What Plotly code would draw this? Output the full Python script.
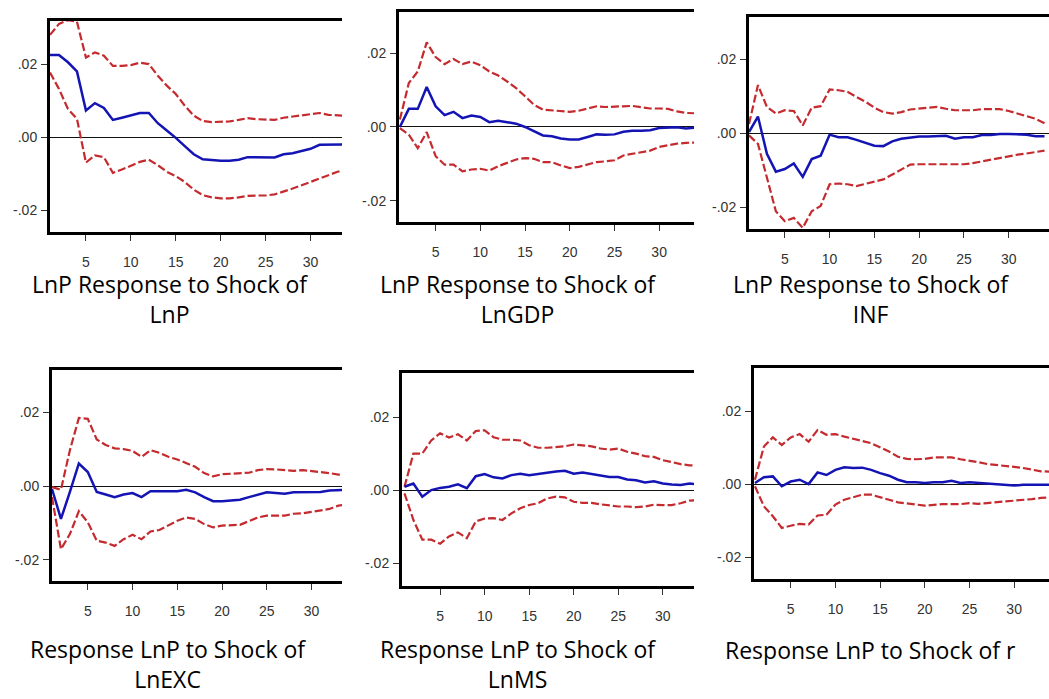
import plotly.graph_objects as go

periods = list(range(1, 35))

# Panel 1: LnP -> LnP
p1_resp = [0.0225,0.0225,0.0205,0.018,0.0073,0.0093,0.008,0.0047,0.0053,0.0059,0.0066,0.0066,0.0038,0.0018,-0.0002,-0.0025,-0.0047,-0.0061,-0.0064,-0.0065,-0.0065,-0.0062,-0.0055,-0.0056,-0.0056,-0.0056,-0.0047,-0.0044,-0.0038,-0.0032,-0.0021,-0.0021,-0.0021,-0.002]
p1_up = [0.028,0.031,0.032,0.0316,0.0218,0.0232,0.0223,0.0195,0.0195,0.0197,0.0204,0.02,0.0168,0.0141,0.0118,0.0086,0.0059,0.0044,0.0041,0.0041,0.0043,0.0047,0.0052,0.0049,0.0047,0.0047,0.0053,0.0056,0.0061,0.0062,0.0066,0.0061,0.0059,0.0058]
p1_lo = [0.0177,0.0132,0.0077,0.005,-0.007,-0.005,-0.0055,-0.0098,-0.0089,-0.0079,-0.0068,-0.0062,-0.0077,-0.0095,-0.0107,-0.0123,-0.0144,-0.0159,-0.0165,-0.0168,-0.0168,-0.0165,-0.0161,-0.016,-0.016,-0.0157,-0.015,-0.0141,-0.0132,-0.0123,-0.0114,-0.0105,-0.0095,-0.009]

# Panel 2: LnP -> LnGDP
p2_resp = [0.0,0.0049,0.0049,0.0108,0.0056,0.0032,0.0041,0.0024,0.0031,0.0027,0.0013,0.0017,0.0013,0.0009,0.0,-0.0012,-0.0023,-0.0025,-0.0031,-0.0034,-0.0034,-0.0027,-0.002,-0.0021,-0.002,-0.0013,-0.001,-0.001,-0.0009,-0.0003,-0.0001,-0.0001,-0.0004,-0.0002]
p2_up = [0.002,0.0119,0.015,0.0229,0.0189,0.017,0.0184,0.017,0.0177,0.0167,0.015,0.0139,0.0123,0.0105,0.0083,0.006,0.0047,0.0045,0.0042,0.0041,0.0044,0.0051,0.0056,0.0054,0.0054,0.0056,0.0057,0.0054,0.005,0.005,0.0049,0.0042,0.0038,0.0037]
p2_lo = [-0.0003,-0.0021,-0.0057,-0.0014,-0.0079,-0.0102,-0.0102,-0.012,-0.0115,-0.0113,-0.0118,-0.0106,-0.0097,-0.0088,-0.0084,-0.0086,-0.0095,-0.0095,-0.0104,-0.0111,-0.0108,-0.0102,-0.0095,-0.0093,-0.009,-0.0077,-0.0072,-0.0068,-0.0064,-0.0054,-0.0049,-0.0045,-0.0043,-0.0042]

# Panel 3: LnP -> INF
p3_resp = [0.0003,0.0045,-0.0056,-0.0104,-0.0097,-0.0082,-0.0118,-0.007,-0.0061,-0.0004,-0.0011,-0.0011,-0.0018,-0.0027,-0.0034,-0.0035,-0.0022,-0.0015,-0.0011,-0.0009,-0.0009,-0.0007,-0.0007,-0.0015,-0.0011,-0.0011,-0.0005,-0.0005,-0.0002,-0.0002,-0.0003,-0.0004,-0.0008,-0.0008]
p3_up = [0.0025,0.013,0.0071,0.0053,0.0062,0.006,0.0021,0.0069,0.0073,0.0118,0.0116,0.0112,0.0098,0.0085,0.0069,0.0057,0.0053,0.0057,0.0064,0.0066,0.0069,0.0071,0.0066,0.0062,0.0062,0.0062,0.0065,0.0065,0.0065,0.006,0.0053,0.0045,0.0039,0.0027]
p3_lo = [-0.0006,-0.0029,-0.012,-0.0211,-0.0238,-0.0229,-0.0256,-0.0211,-0.0197,-0.0138,-0.0136,-0.0138,-0.0143,-0.0138,-0.0131,-0.0125,-0.0111,-0.0097,-0.0085,-0.0084,-0.0084,-0.0084,-0.0084,-0.0086,-0.0084,-0.0081,-0.0076,-0.0073,-0.0067,-0.0061,-0.0058,-0.0055,-0.0052,-0.0047]

# Panel 4: LnP -> LnEXC
p4_resp = [-0.0008,-0.0089,-0.0016,0.0061,0.0038,-0.0016,-0.0023,-0.003,-0.0023,-0.0019,-0.003,-0.0014,-0.0014,-0.0015,-0.0014,-0.001,-0.0017,-0.003,-0.0041,-0.0041,-0.0039,-0.0037,-0.003,-0.0023,-0.0017,-0.0019,-0.0021,-0.0017,-0.0017,-0.0017,-0.0016,-0.0012,-0.001,-0.001]
p4_up = [-0.0003,-0.001,0.0097,0.0184,0.0182,0.0126,0.0111,0.0102,0.01,0.0095,0.0079,0.0097,0.009,0.0079,0.0072,0.0063,0.0052,0.0035,0.0026,0.0032,0.0034,0.0034,0.0036,0.0043,0.0046,0.0045,0.0043,0.0041,0.0043,0.0041,0.0038,0.0035,0.0031,0.003]
p4_lo = [-0.003,-0.0171,-0.013,-0.0068,-0.0098,-0.0148,-0.0153,-0.0162,-0.0144,-0.0132,-0.0144,-0.0123,-0.0119,-0.0107,-0.0094,-0.0085,-0.0089,-0.0103,-0.0112,-0.0107,-0.0107,-0.0105,-0.0095,-0.0085,-0.008,-0.008,-0.008,-0.0075,-0.0074,-0.007,-0.0066,-0.0062,-0.0053,-0.005]

# Panel 5: LnP -> LnMS
p5_resp = [0.0009,0.0018,-0.0018,0.0,0.0006,0.0009,0.0016,0.0005,0.0038,0.0044,0.0035,0.0032,0.0041,0.0045,0.0041,0.0045,0.0049,0.0051,0.0053,0.0045,0.0048,0.0044,0.0039,0.0036,0.0036,0.0029,0.0027,0.0021,0.0024,0.0018,0.0015,0.0014,0.0018,0.0015]
p5_up = [0.0009,0.01,0.01,0.0136,0.0156,0.0144,0.0153,0.0136,0.0162,0.0164,0.0145,0.0138,0.0138,0.0136,0.0123,0.0116,0.0116,0.0118,0.012,0.0125,0.0123,0.012,0.0114,0.0111,0.0114,0.0105,0.01,0.0093,0.0091,0.0082,0.0077,0.0071,0.0068,0.0067]
p5_lo = [-0.0009,-0.0082,-0.0136,-0.0136,-0.0147,-0.0127,-0.0116,-0.0132,-0.0086,-0.0078,-0.0077,-0.0082,-0.0064,-0.005,-0.0041,-0.0036,-0.0023,-0.0018,-0.002,-0.0032,-0.0035,-0.0035,-0.0039,-0.0042,-0.0045,-0.0045,-0.0047,-0.0045,-0.004,-0.0041,-0.0041,-0.0036,-0.0029,-0.0028]

# Panel 6: LnP -> r
p6_resp = [0.0003,0.0019,0.0021,-0.0006,0.0007,0.0012,0.0,0.0032,0.0025,0.0039,0.0046,0.0044,0.0045,0.0039,0.003,0.0023,0.0012,0.0005,0.0005,0.0003,0.0005,0.0005,0.0009,0.0003,0.0005,0.0003,0.0001,-0.0002,-0.0002,-0.0004,-0.0002,-0.0002,-0.0002,-0.0002]
p6_up = [0.0012,0.0103,0.0128,0.0107,0.0128,0.0137,0.0116,0.0148,0.0135,0.0137,0.013,0.0123,0.0118,0.0112,0.0101,0.0089,0.0075,0.0069,0.0068,0.0069,0.0073,0.0073,0.0073,0.0068,0.0065,0.006,0.0055,0.0053,0.005,0.0047,0.0044,0.0039,0.0035,0.0034]
p6_lo = [-0.0006,-0.0061,-0.0088,-0.012,-0.0114,-0.0109,-0.0111,-0.0086,-0.0084,-0.0056,-0.0043,-0.0035,-0.0029,-0.0029,-0.0035,-0.0043,-0.005,-0.0054,-0.0056,-0.0059,-0.0056,-0.0055,-0.0055,-0.0055,-0.0052,-0.0054,-0.0052,-0.005,-0.0049,-0.0047,-0.0045,-0.0041,-0.0038,-0.0036]

caption_line1 = ["LnP Response to Shock of", "LnP Response to Shock of", "LnP Response to Shock of",
                 "Response LnP to Shock of", "Response LnP to Shock of", "Response LnP to Shock of r"]
caption_line2 = ["LnP", "LnGDP", "INF", "LnEXC", "LnMS", ""]

y_tickvals = [-0.02, 0.0, 0.02]
y_ticktext = ["-.02", ".00", ".02"]
x_tickvals = [5, 10, 15, 20, 25, 30, 35]

panels = [
    (p1_resp, p1_up, p1_lo),
    (p2_resp, p2_up, p2_lo),
    (p3_resp, p3_up, p3_lo),
    (p4_resp, p4_up, p4_lo),
    (p5_resp, p5_up, p5_lo),
    (p6_resp, p6_up, p6_lo),
]

W, H = 1049, 699
# pixel boxes: left, right, top, bottom ; x range ; y range
boxes = [
    (50, 342, 21, 232, [1.0, 33.5], [-0.0260, 0.0318]),
    (399, 694, 12, 222, [0.9, 33.9], [-0.0257, 0.0311]),
    (749, 1049, 17, 229, [1.0, 34.5], [-0.0259, 0.0314]),
    (52, 342, 370, 581, [1.0, 33.4], [-0.0257, 0.0314]),
    (402, 694, 373, 586, [0.72, 33.5], [-0.0263, 0.0321]),
    (754, 1049, 368, 579, [0.89, 33.9], [-0.0260, 0.0318]),
]
cap_x = [170, 518, 871, 168, 518, 870]
cap_y2 = [299, 299, 299, 664, 664, 650]   # centre of the caption block

BLUE = "#1414b4"
RED = "#c42a2e"

fig = go.Figure()
layout = dict(width=W, height=H, margin=dict(l=0, r=0, t=0, b=0),
              paper_bgcolor="white", plot_bgcolor="white", showlegend=False)

for i, ((resp, up, lo), box) in enumerate(zip(panels, boxes)):
    L, R, T, B, xr, yr = box
    n = i + 1
    xa = "x" if n == 1 else f"x{n}"
    ya = "y" if n == 1 else f"y{n}"
    for vals, col, dash, wd in ((up, RED, "8px,3px", 2.2), (lo, RED, "8px,3px", 2.2), (resp, BLUE, "solid", 2.5)):
        fig.add_trace(go.Scatter(x=periods, y=vals, mode="lines", xaxis=xa, yaxis=ya,
                                 line=dict(color=col, width=wd, dash=dash), hoverinfo="skip"))
    xkey = "xaxis" if n == 1 else f"xaxis{n}"
    ykey = "yaxis" if n == 1 else f"yaxis{n}"
    layout[xkey] = dict(domain=[L / W, R / W], range=xr, anchor=ya,
                        showline=True, linecolor="black", linewidth=3, mirror=True,
                        showgrid=False, zeroline=False,
                        ticks="outside", ticklen=6, tickwidth=1, tickcolor="#333",
                        tickvals=x_tickvals, ticklabelstandoff=9,
                        tickfont=dict(family="Liberation Sans, Arial", size=14, color="#333"))
    layout[ykey] = dict(domain=[1 - B / H, 1 - T / H], range=yr, anchor=xa,
                        showline=True, linecolor="black", linewidth=3, mirror=False,
                        showgrid=False, zeroline=True, zerolinecolor="#111", zerolinewidth=1,
                        ticks="outside", ticklen=6, tickwidth=1, tickcolor="#333",
                        tickvals=y_tickvals, ticktext=y_ticktext, ticklabelstandoff=1,
                        tickfont=dict(family="Liberation Sans, Arial", size=14, color="#333"))

fig.update_layout(**layout)

anns = []
for i in range(6):
    txt = caption_line1[i] + ("<br>" + caption_line2[i] if caption_line2[i] else "")
    anns.append(dict(text=txt, x=cap_x[i] / W, y=1 - cap_y2[i] / H, xref="paper", yref="paper",
                     xanchor="center", yanchor="middle", align="center", showarrow=False,
                     font=dict(family="Open Sans", size=23, color="black")))
fig.update_layout(annotations=anns)

fig.write_html("out.html")
